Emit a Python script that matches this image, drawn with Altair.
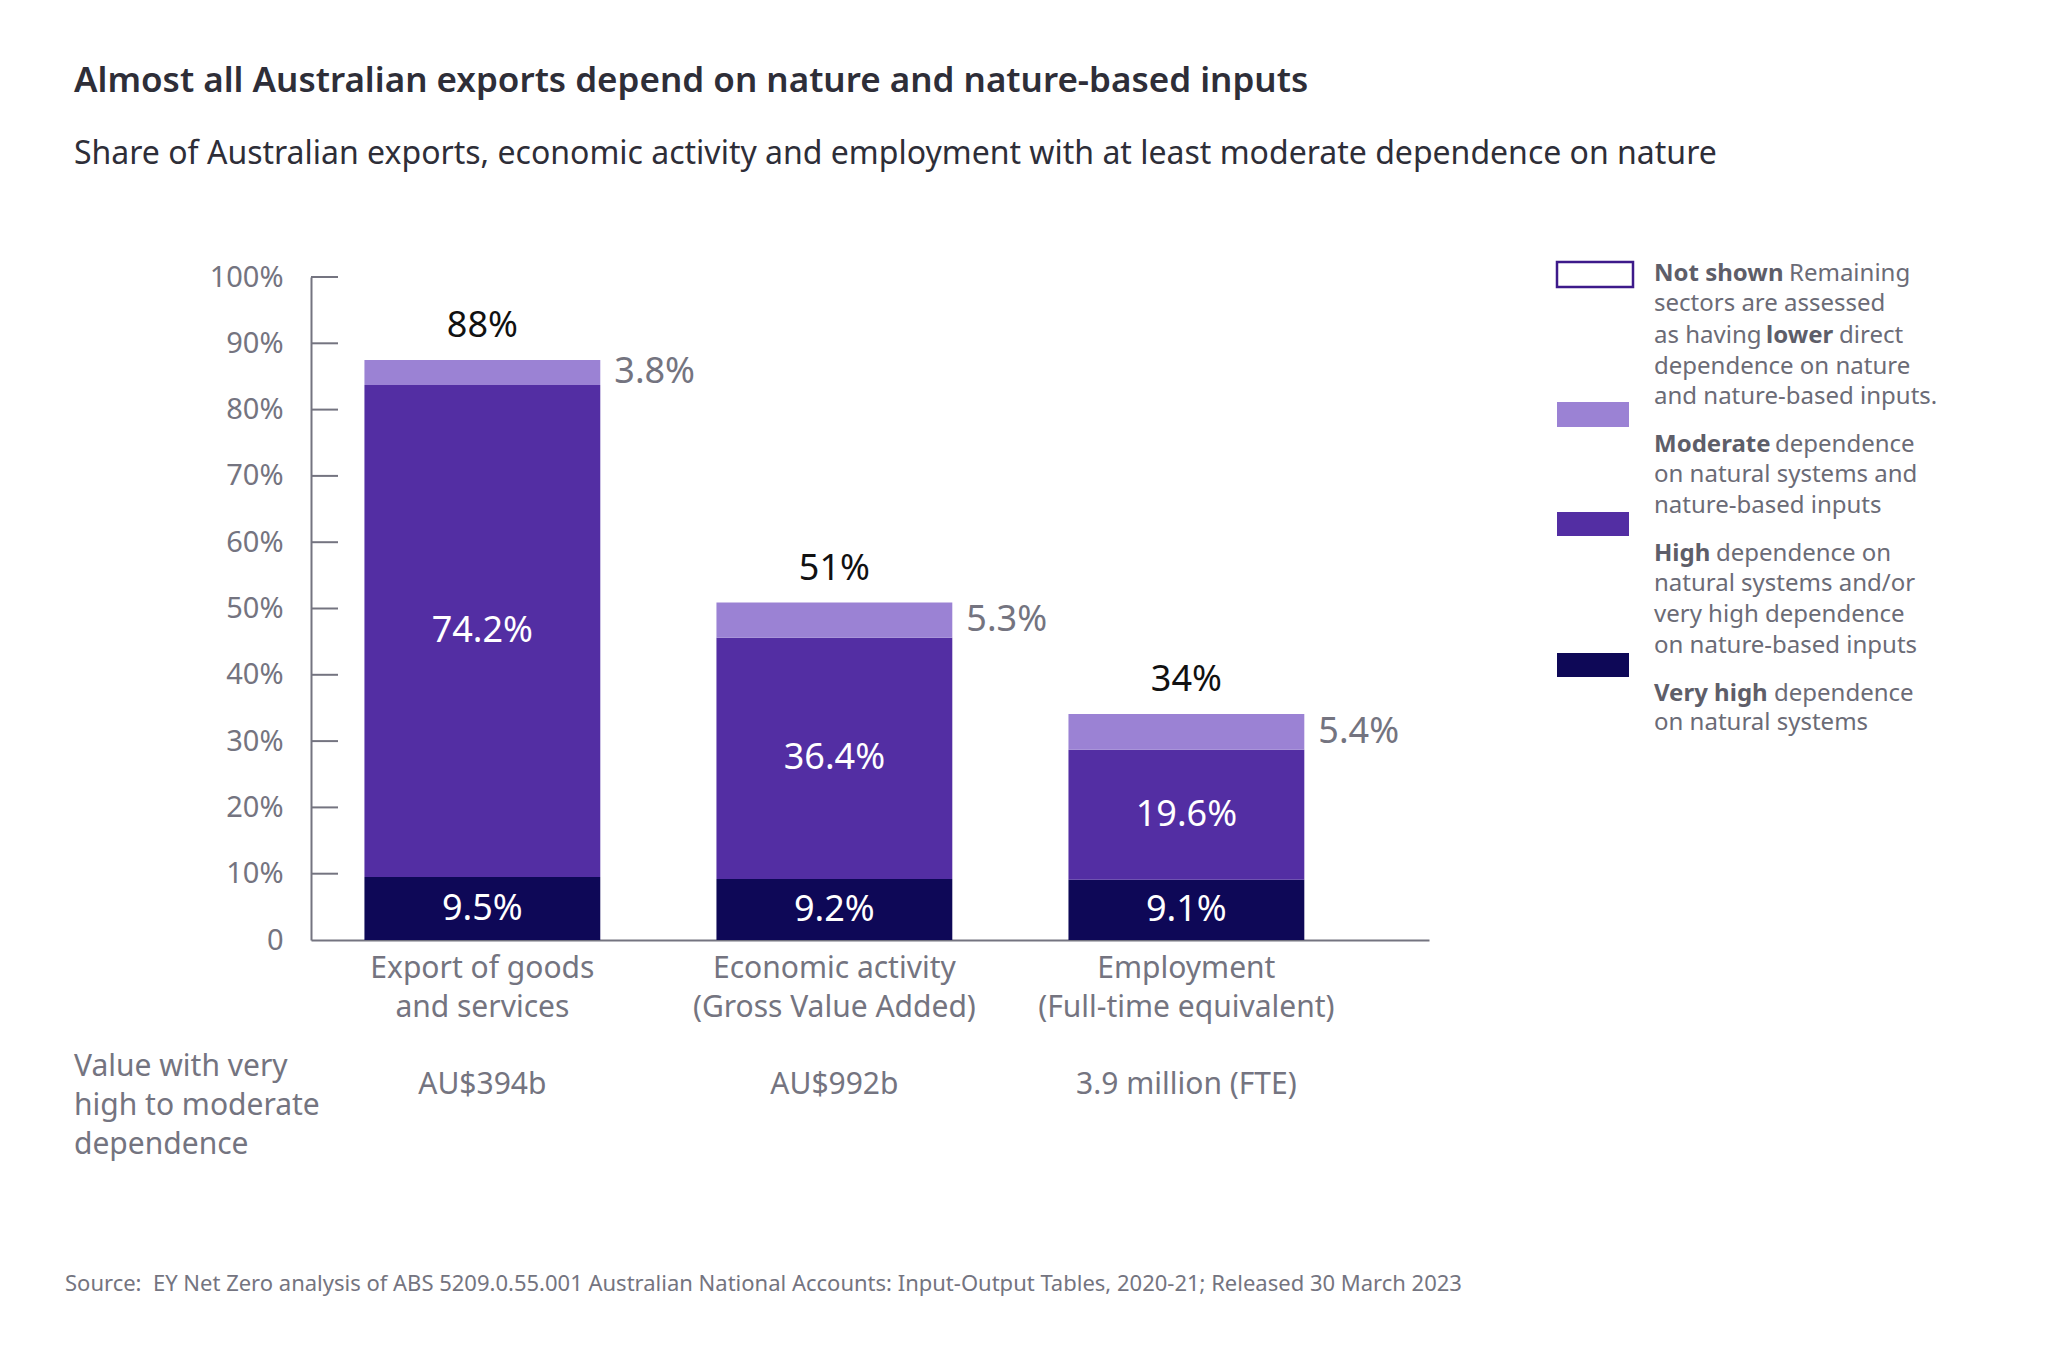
import altair as alt
import pandas as pd

# ---------------- data ----------------
category_line1 = ["Export of goods", "Economic activity", "Employment"]
category_line2 = ["and services", "(Gross Value Added)", "(Full-time equivalent)"]
very_high = [9.5, 9.2, 9.1]
high = [74.2, 36.4, 19.6]
moderate = [3.8, 5.3, 5.4]
value_row = ["AU$394b", "AU$992b", "3.9 million (FTE)"]
value_header = ["Value with very", "high to moderate", "dependence"]
levels = ["Very high", "High", "Moderate"]
level_colors = ["#0e0857", "#532ea3", "#9b82d4"]
y_ticks = [0, 10, 20, 30, 40, 50, 60, 70, 80, 90, 100]

title_text = "Almost all Australian exports depend on nature and nature-based inputs"
subtitle_text = ("Share of Australian exports, economic activity and employment "
                 "with at least moderate dependence on nature")
source_text = ("Source:\u00a0 EY Net Zero analysis of ABS 5209.0.55.001 Australian National "
               "Accounts: Input-Output Tables, 2020-21; Released 30 March 2023")

# ---------------- tables ----------------
rows = []
for i, cat in enumerate(category_line1):
    base = 0.0
    for lev, vals in zip(levels, [very_high, high, moderate]):
        v = vals[i]
        rows.append({"category": cat, "level": lev, "value": v,
                     "y0": base, "y1": base + v, "ymid": base + v / 2,
                     "label": f"{v}%"})
        base += v
bars_df = pd.DataFrame(rows)

tot_df = pd.DataFrame({
    "category": category_line1,
    "total": [a + b + c for a, b, c in zip(very_high, high, moderate)],
})
tot_df["label"] = [f"{round(t)}%" for t in tot_df["total"]]

cat_df = pd.DataFrame({"category": category_line1, "line2": category_line2,
                       "value": value_row})
tick_df = pd.DataFrame({"tick": [t for t in y_ticks if t > 0]})
one = pd.DataFrame({"k": [0]})

FONT = "Noto Sans"
GREY = "#747480"
DARK = "#2e2e38"
LEG = "#6b6b76"

W, H = 1118, 663

x_scale = alt.Scale(paddingInner=0.33, paddingOuter=0.253, align=0.3)
AX_X = alt.Axis(labels=False, ticks=False, title=None, grid=False,
                domainColor=GREY, domainWidth=2)
AX_Y = alt.Axis(values=y_ticks, title=None, grid=False, ticks=False,
                labelExpr="datum.value == 0 ? '0' : datum.value + '%'",
                labelFontSize=29, labelColor=GREY, labelFont=FONT,
                labelPadding=28, domainColor=GREY, domainWidth=2)
Y_SCALE = alt.Scale(domain=[0, 100], nice=False)


def X(**kw):
    return alt.X("category:N", sort=category_line1, scale=x_scale, axis=AX_X,
                 title=None, **kw)


def Y(field):
    return alt.Y(field, scale=Y_SCALE, axis=AX_Y, title=None)


bars = alt.Chart(bars_df).mark_bar().encode(
    x=X(),
    y=Y("y0:Q"),
    y2="y1:Q",
    color=alt.Color("level:N", scale=alt.Scale(domain=levels, range=level_colors),
                    legend=None),
)

inner_ticks = alt.Chart(tick_df).mark_rule(color=GREY, strokeWidth=2).encode(
    y=Y("tick:Q"),
    x=alt.value(0), x2=alt.value(27),
)

inner_labels = alt.Chart(bars_df).transform_filter(
    alt.FieldOneOfPredicate(field="level", oneOf=["Very high", "High"])
).mark_text(color="white", fontSize=36, font=FONT, baseline="middle").encode(
    x=X(), y=Y("ymid:Q"), text="label:N")

mod_labels = alt.Chart(bars_df).transform_filter(
    alt.FieldEqualPredicate(field="level", equal="Moderate")
).mark_text(color=GREY, fontSize=36, font=FONT, baseline="middle", align="left",
            dx=14).encode(
    x=X(bandPosition=1), y=Y("ymid:Q"), text="label:N")

tot_labels = alt.Chart(tot_df).mark_text(
    color="#111111", fontSize=36, font=FONT, baseline="middle", dy=-34).encode(
    x=X(), y=Y("total:Q"), text="label:N")

cat1 = alt.Chart(cat_df).mark_text(color=GREY, fontSize=30, font=FONT,
                                   baseline="middle").encode(
    x=X(), y=alt.value(692), text="category:N")
cat2 = alt.Chart(cat_df).mark_text(color=GREY, fontSize=30, font=FONT,
                                   baseline="middle").encode(
    x=X(), y=alt.value(731), text="line2:N")
vals = alt.Chart(cat_df).mark_text(color=GREY, fontSize=30, font=FONT,
                                   baseline="middle").encode(
    x=X(), y=alt.value(808), text="value:N")


def ptext(s, x, y, size, color, weight="normal", align="left"):
    return alt.Chart(one).mark_text(
        align=align, baseline="middle", fontSize=size, color=color,
        fontWeight=weight, font=FONT).encode(
        x=alt.value(x), y=alt.value(y), text=alt.value(s))


def prect(x, x2, y, y2, fill, stroke=None):
    kw = {"fill": fill}
    if stroke:
        kw.update(stroke=stroke, strokeWidth=2.5)
    return alt.Chart(one).mark_rect(**kw).encode(
        x=alt.value(x), x2=alt.value(x2), y=alt.value(y), y2=alt.value(y2))


extras = [
    ptext(title_text, -237, -196, 35, DARK, weight=600),
    ptext(subtitle_text, -237, -123, 32, DARK),
    ptext(source_text, -246, 1007, 22, GREY),
]
for i, line in enumerate(value_header):
    extras.append(ptext(line, -237, 790 + 39 * i, 30, GREY))

# legend
LX, TX = 1246, 1343
extras += [
    prect(LX, LX + 76, -15, 10, "white", stroke="#3d1a8a"),
    prect(LX, LX + 72, 125, 150, level_colors[2]),
    prect(LX, LX + 72, 235, 259, level_colors[1]),
    prect(LX, LX + 72, 376, 400, level_colors[0]),
]
BOLD = "#5e5e69"
leg_runs = [
    (-3, [("Not shown", 0, True), ("Remaining", 135, False)]),
    (27, [("sectors are assessed", 0, False)]),
    (59, [("as having", 0, False), ("lower", 112, True), ("direct", 185, False)]),
    (90, [("dependence on nature", 0, False)]),
    (120, [("and nature-based inputs.", 0, False)]),
    (168, [("Moderate", 0, True), ("dependence", 121, False)]),
    (198, [("on natural systems and", 0, False)]),
    (229, [("nature-based inputs", 0, False)]),
    (277, [("High", 0, True), ("dependence on", 62, False)]),
    (307, [("natural systems and/or", 0, False)]),
    (338, [("very high dependence", 0, False)]),
    (369, [("on nature-based inputs", 0, False)]),
    (417, [("Very high", 0, True), ("dependence", 120, False)]),
    (446, [("on natural systems", 0, False)]),
]
for y, runs in leg_runs:
    for s, dx, b in runs:
        extras.append(ptext(s, TX + dx, y, 24, BOLD if b else LEG,
                            weight="bold" if b else "normal"))

chart = alt.layer(bars, inner_ticks, inner_labels, mod_labels, tot_labels,
                  cat1, cat2, vals, *extras).properties(
    width=W, height=H,
    padding={"left": 303, "top": 269, "right": 600, "bottom": 400},
    autosize=alt.AutoSizeParams(type="none"),
).configure(font=FONT).configure_view(stroke=None)

chart.save("out.html", embed_options={"renderer": "svg", "actions": False})
